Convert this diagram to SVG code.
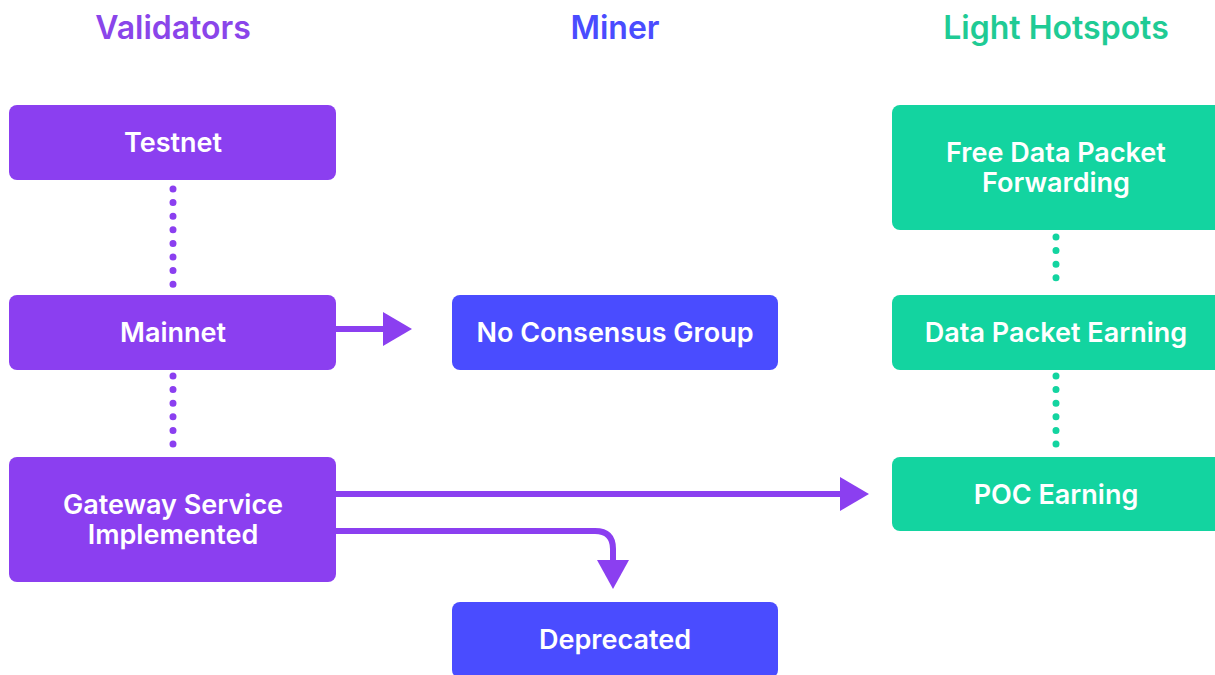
<svg xmlns="http://www.w3.org/2000/svg" width="1215" height="675" viewBox="0 0 1215 675">
<style>
.title{font-family:Inter,"Liberation Sans",sans-serif;font-weight:600;font-size:32px;text-anchor:middle}
.lbl{font-family:Inter,"Liberation Sans",sans-serif;font-weight:600;font-size:27px;fill:#ffffff;text-anchor:middle}
.pur{fill:#8b3ff0}
.blu{fill:#4a4cff}
.tea{fill:#13d4a0}
.dots{fill:none;stroke-width:7;stroke-linecap:round;stroke-dasharray:0 13.6}
.conn{fill:none;stroke:#8b3ff0;stroke-width:6}
</style>
<rect width="1215" height="675" fill="#ffffff"/>
<g id="titles">
<text class="title" x="173" y="39" fill="#8a45ea">Validators</text>
<text class="title" x="615" y="39" fill="#4a4cff">Miner</text>
<text class="title" x="1056" y="39" fill="#1fcb95">Light Hotspots</text>
</g>
<g id="connectors">
<path class="dots" stroke="#8b3ff0" d="M173,189 V290"/>
<path class="dots" stroke="#8b3ff0" d="M173,376 V450"/>
<path class="dots" stroke="#13d4a0" d="M1056,237 V290"/>
<path class="dots" stroke="#13d4a0" d="M1056,376 V450"/>
<path class="conn" d="M336,329 H385"/>
<polygon class="pur" points="383,312 412,329 383,346"/>
<path class="conn" d="M336,494 H842"/>
<polygon class="pur" points="840,477 869,494 840,511"/>
<path class="conn" d="M336,531 H595 Q613,531 613,549 V562"/>
<polygon class="pur" points="597,560 629,560 613,589"/>
</g>
<g id="testnet">
<rect class="pur" x="9" y="105" width="327" height="75" rx="8"/>
<text class="lbl" x="173" y="152">Testnet</text>
</g>
<g id="mainnet">
<rect class="pur" x="9" y="295" width="327" height="75" rx="8"/>
<text class="lbl" x="173" y="342">Mainnet</text>
</g>
<g id="gateway">
<rect class="pur" x="9" y="457" width="327" height="125" rx="8"/>
<text class="lbl" x="173" y="514">Gateway Service</text>
<text class="lbl" x="173" y="544">Implemented</text>
</g>
<g id="noconsensus">
<rect class="blu" x="452" y="295" width="326" height="75" rx="8"/>
<text class="lbl" x="615" y="342">No Consensus Group</text>
</g>
<g id="deprecated">
<rect class="blu" x="452" y="602" width="326" height="76" rx="8"/>
<text class="lbl" x="615" y="649">Deprecated</text>
</g>
<g id="freedata">
<rect class="tea" x="892" y="105" width="330" height="125" rx="8"/>
<text class="lbl" x="1056" y="162">Free Data Packet</text>
<text class="lbl" x="1056" y="192">Forwarding</text>
</g>
<g id="datapacket">
<rect class="tea" x="892" y="295" width="330" height="75" rx="8"/>
<text class="lbl" x="1056" y="342">Data Packet Earning</text>
</g>
<g id="poc">
<rect class="tea" x="892" y="457" width="330" height="74" rx="8"/>
<text class="lbl" x="1056" y="504">POC Earning</text>
</g>
</svg>
